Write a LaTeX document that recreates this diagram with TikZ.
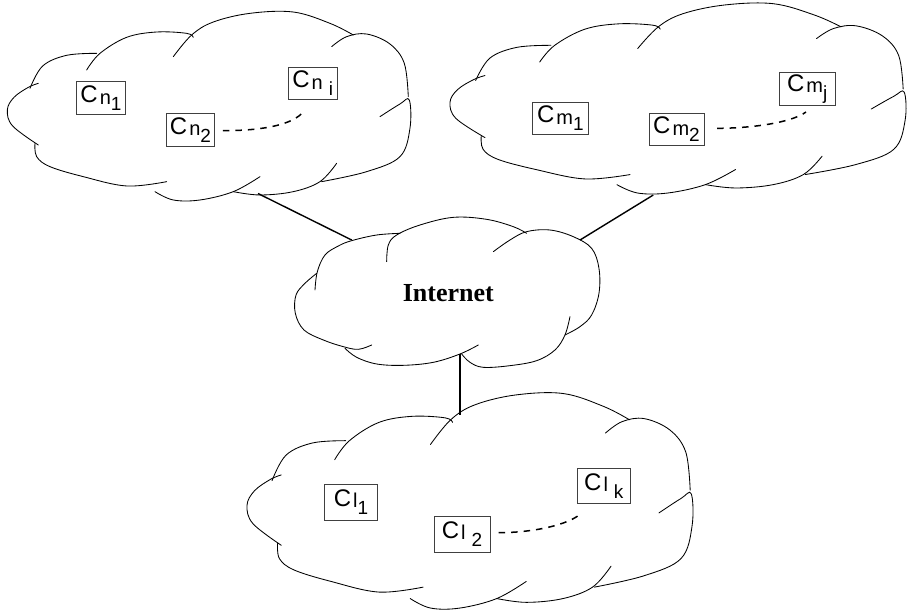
\documentclass[tikz,border=0pt]{standalone}
\usepackage{fontspec}
\setmainfont{Liberation Sans}
\newfontfamily\timesfont{Liberation Serif}
\usetikzlibrary{calc}

\tikzset{
  cloudline/.style={line width=0.85pt, black, line cap=round},
  linkline/.style={line width=1.4pt, black},
  dashline/.style={line width=1.5pt, black, dash pattern=on 6.5pt off 6pt},
  cbox/.style={draw=black!75, line width=0.7pt, inner sep=0pt, rectangle},
  inettext/.style={font=\timesfont\bfseries\fontsize{26}{26}\selectfont, inner sep=0pt}
}

% computer label: C with a subscript letter and a second, lower index
\newcommand\clab[3][0pt]{%
  {\fontsize{24}{24}\selectfont C}\hspace{2pt}%
  \raisebox{-1.5pt}{\fontsize{20}{20}\selectfont #2}\hspace{#1}%
  \raisebox{-8pt}{\fontsize{19}{19}\selectfont #3}}

% a cloud made of overlapping lobe strokes (local units, about 1210 x 560)
\newcommand\cloudstrokes{%
  \draw[cloudline] plot[smooth,tension=0.6] coordinates {(115,250) (85,262) (42,292) (22,330) (38,378) (115,435)};
  \draw[cloudline] plot[smooth,tension=0.6] coordinates {(90,265) (128,198) (200,166) (290,160)};
  \draw[cloudline] plot[smooth,tension=0.6] coordinates {(260,210) (300,160) (380,112) (470,96) (560,100) (580,112)};
  \draw[cloudline] plot[smooth,tension=0.6] coordinates {(520,170) (575,105) (640,66) (750,40) (880,36) (990,70) (1060,105)};
  \draw[cloudline] plot[smooth,tension=0.6] coordinates {(995,140) (1040,110) (1100,102) (1170,132) (1213,190) (1225,290)};
  \draw[cloudline] plot[smooth,tension=0.6] coordinates {(1140,350) (1200,312) (1228,300) (1230,385) (1200,470) (1100,515) (965,545)};
  \draw[cloudline] plot[smooth,tension=0.6] coordinates {(1010,490) (960,545) (880,575) (780,585) (700,575)};
  \draw[cloudline] plot[smooth,tension=0.6] coordinates {(780,530) (700,575) (600,600) (520,600) (465,575)};
  \draw[cloudline] plot[smooth,tension=0.6] coordinates {(500,545) (380,558) (250,530) (150,500) (110,470) (105,430)};
}

\begin{document}
\begin{tikzpicture}[x=1pt,y=-1pt]
\useasboundingbox (0,0) rectangle (907,611);

% ---- the three site clouds ----
\begin{scope}[xscale=0.3333, yscale=0.3333]
  \cloudstrokes
\end{scope}
\begin{scope}[shift={(441.7,-8.4)}, xscale=0.3767, yscale=0.3357]
  \cloudstrokes
\end{scope}
\begin{scope}[shift={(238.9,379.8)}, xscale=0.3684, yscale=0.3804]
  \cloudstrokes
\end{scope}

% ---- the Internet cloud ----
\begin{scope}[shift={(280,200)}, xscale=0.3333, yscale=0.3333]
  \draw[cloudline] plot[smooth,tension=0.6] coordinates {(105,270) (112,215) (135,165) (175,138) (215,122) (290,105) (360,100)};
  \draw[cloudline] plot[smooth,tension=0.6] coordinates {(320,185) (325,135) (350,105) (420,75) (520,52) (620,58) (700,80) (740,100)};
  \draw[cloudline] plot[smooth,tension=0.6] coordinates {(640,155) (690,120) (740,95) (810,90) (880,110) (935,145) (957,205) (957,280) (935,345) (900,380) (855,405)};
  \draw[cloudline] plot[smooth,tension=0.6] coordinates {(870,350) (855,405) (825,450) (770,482) (690,497) (610,502) (570,487) (545,462)};
  \draw[cloudline] plot[smooth,tension=0.6] coordinates {(595,435) (540,462) (460,487) (370,496) (290,492) (230,472) (195,445)};
  \draw[cloudline] plot[smooth,tension=0.6] coordinates {(275,435) (235,448) (190,440) (130,420) (72,390) (46,340) (48,285) (75,250) (110,220)};
\end{scope}
\node[inettext, anchor=base] (inet) at (448.3,301.7) {Internet};

% ---- computers of site n ----
\node[cbox, minimum width=49pt, minimum height=33pt] (n1) at (101,98.3) {\clab{n}{1}};
\node[cbox, minimum width=48pt, minimum height=33pt] (n2) at (190.5,129.7) {\clab{n}{2}};
\node[cbox, minimum width=49pt, minimum height=32pt] (ni) at (312.7,83.2) {\clab[6pt]{n}{i}};
\coordinate (n2d) at ($(n2.east)+(8,1)$);
\coordinate (nid) at ($(ni.south)+(-11,14)$);
\draw[dashline] (n2d) .. controls +(37,0) and +(-12,12) .. (nid);

% ---- computers of site m ----
\node[cbox, minimum width=56.7pt, minimum height=32.7pt] (m1) at (560.3,118.3) {\clab{m}{1}};
\node[cbox, minimum width=55pt, minimum height=32.4pt] (m2) at (676.5,129.5) {\clab{m}{2}};
\node[cbox, minimum width=55.7pt, minimum height=32.3pt] (mj) at (807.2,88.8) {\clab{m}{j}};
\coordinate (m2d) at ($(m2.east)+(12.7,-1.2)$);
\coordinate (mjd) at ($(mj.south)+(-1.2,6.7)$);
\draw[dashline] (m2d) .. controls +(33,0) and +(-15,11) .. (mjd);

% ---- computers of site l ----
\node[cbox, minimum width=53.4pt, minimum height=36pt] (l1) at (351,502) {\clab{l}{1}};
\node[cbox, minimum width=56pt, minimum height=36pt] (l2) at (462,534) {\clab[6pt]{l}{2}};
\node[cbox, minimum width=52.3pt, minimum height=35pt] (lk) at (603.8,485.8) {\clab[6pt]{l}{k}};
\coordinate (l2d) at ($(l2.east)+(8.3,-1.3)$);
\coordinate (lkd) at ($(lk.south)+(-23.8,10.7)$);
\draw[dashline] (l2d) .. controls +(30,0) and +(-15,12) .. (lkd);

% ---- links to the Internet ----
\coordinate (siten) at (258,193.5);
\coordinate (sitem) at (653.3,195);
\coordinate (sitel) at (460,415);
\coordinate (inetn) at (351.7,240);
\coordinate (inetm) at (580,240);
\coordinate (inetl) at (460,353.5);
\draw[linkline] (siten) -- (inetn);
\draw[linkline] (sitem) -- (inetm);
\draw[linkline] (inetl) -- (sitel);
\end{tikzpicture}
\end{document}
